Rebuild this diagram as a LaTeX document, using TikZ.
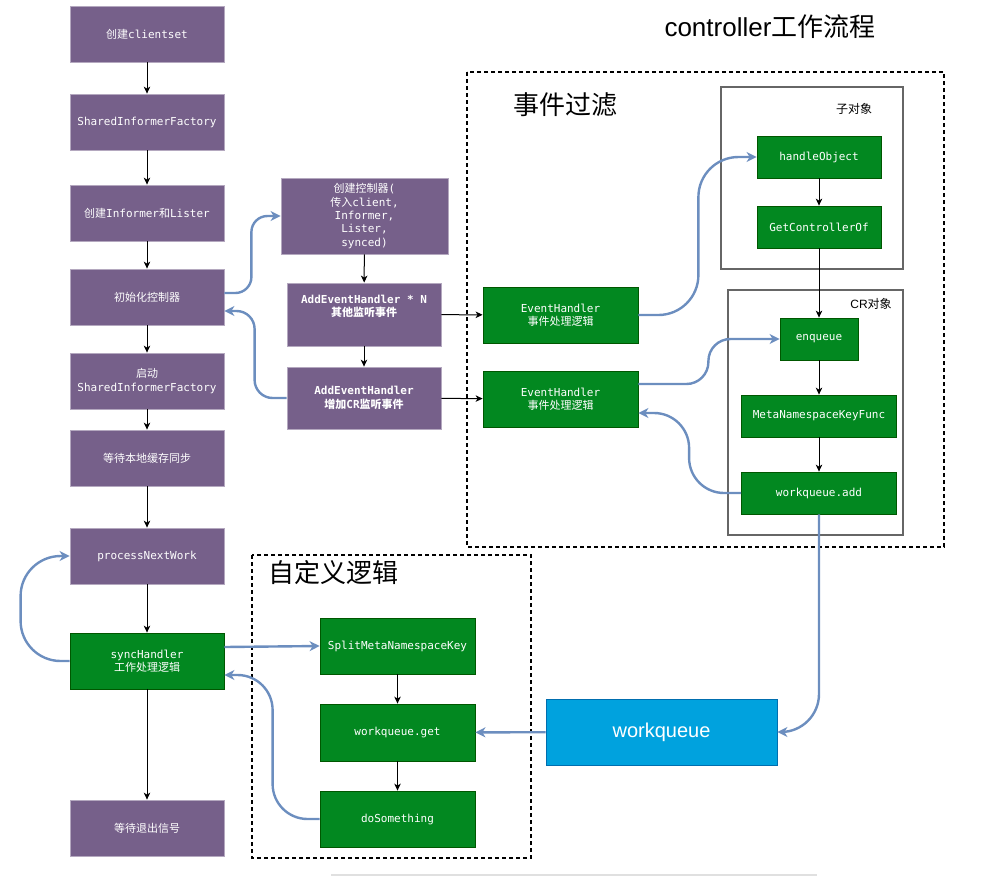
\documentclass[tikz,border=0pt]{standalone}
\usepackage{fontspec}
\setmonofont{DejaVu Sans Mono}
\setsansfont{Liberation Sans}
\newfontfamily\zhfont{Noto Sans CJK SC}
\newcommand{\zh}[1]{{\zhfont #1}}
\newcommand{\boxfont}{\ttfamily\fontsize{11}{13.3}\selectfont}
\usetikzlibrary{arrows.meta}
\definecolor{ctlpurple}{RGB}{118,96,138}
\definecolor{ctlgreen}{RGB}{2,136,32}
\definecolor{ctlgreenline}{RGB}{0,87,0}
\definecolor{qblue}{RGB}{0,162,222}
\definecolor{qblueline}{RGB}{0,110,175}
\definecolor{feedblue}{RGB}{108,142,191}
\tikzset{pbox/.style={rectangle, fill=ctlpurple, draw=ctlpurple!55!white, line width=0.8pt,
    minimum width=#1, minimum height=56pt, inner sep=1pt, align=center, text=white, font=\boxfont},
pbox/.default={154pt},
gbox/.style={pbox=#1, fill=ctlgreen, draw=ctlgreenline},
gbox/.default={155pt},
flow/.style={draw=black, line width=1pt, -{Stealth[length=7pt, width=6.5pt, inset=2pt]}},
% the blue curved links
feed/.style={draw=feedblue, line width=2.4pt, -{Stealth[length=10pt, width=10pt, inset=3pt]}},
group/.style={draw=black, line width=1.1pt, dash pattern=on 4pt off 3pt},
subgroup/.style={draw=black!60, line width=1.3pt}}

\begin{document}
\begin{tikzpicture}[x=1pt, y=-1pt]

\useasboundingbox (0,0) rectangle (982,876);

\draw[group] (467,72) rectangle (944,547);
\draw[group] (252,555) rectangle (531,858);
\draw[subgroup] (721,87) rectangle (903,269);
\draw[subgroup] (728,290) rectangle (903,535);

\node[font=\sffamily\fontsize{26}{30}\selectfont] (title) at (770,27) {controller\zh{工作流程}};
\node[font=\zhfont\fontsize{26}{30}\selectfont] (filtertitle) at (565,105) {事件过滤};
\node[font=\zhfont\fontsize{26}{30}\selectfont] (logictitle) at (333,573) {自定义逻辑};
\node[font=\zhfont\fontsize{12}{14}\selectfont] (childlabel) at (854,109) {子对象};
\node[font=\sffamily\fontsize{12}{14}\selectfont] (crlabel) at (871,304) {CR\zh{对象}};

% main loop
\node[pbox] (cs) at (147,34) {\zh{创建}clientset};
\node[pbox] (sif) at (147,122) {SharedInformerFactory};
\node[pbox] (inf) at (147,213) {\zh{创建}Informer\zh{和}Lister};
\node[pbox] (initctl) at (147,297) {\zh{初始化控制器}};
\node[pbox] (startsif) at (147,381) {\zh{启动}\\SharedInformerFactory};
\node[pbox] (waitsync) at (147,458) {\zh{等待本地缓存同步}};
\node[pbox] (pnw) at (147,556) {processNextWork};
\node[gbox=154pt] (sync) at (147,661) {syncHandler\\\zh{工作处理逻辑}};
\node[pbox] (waitexit) at (147,828) {\zh{等待退出信号}};

\node[pbox=167pt, minimum height=76pt] (newctl) at (364.5,216)
  {\zh{创建控制器}(\\\zh{传入}client,\\Informer,\\ Lister,\\synced)};
\node[pbox, minimum height=63pt, font=\boxfont\bfseries] (addn) at (364,314.5)
  {AddEventHandler * N\\\zh{其他监听事件}\\[4pt]};
\node[pbox, minimum height=62pt, font=\boxfont\bfseries] (addcr) at (364,398)
  {AddEventHandler\\\zh{增加}CR\zh{监听事件}};

\node[gbox] (eh1) at (560.5,315) {EventHandler\\\zh{事件处理逻辑}};
\node[gbox] (eh2) at (560.5,399) {EventHandler\\\zh{事件处理逻辑}};

\node[gbox=124pt, minimum height=42pt] (hobj) at (819,157) {handleObject};
\node[gbox=124pt, minimum height=42pt] (gco) at (819,227) {GetControllerOf};
\node[gbox=78pt, minimum height=42pt] (enq) at (819,339) {enqueue};
\node[gbox, minimum height=42pt] (mnkf) at (819,416) {MetaNamespaceKeyFunc};
\node[gbox, minimum height=42pt] (wqadd) at (819,493) {workqueue.add};

\node[gbox] (split) at (397.5,646) {SplitMetaNamespaceKey};
\node[gbox, minimum height=57pt] (wqget) at (397.5,732.5) {workqueue.get};
\node[gbox] (dosth) at (397.5,819) {doSomething};

\node[pbox=231pt, minimum height=66pt, fill=qblue, draw=qblueline,
  font=\sffamily\fontsize{20}{24}\selectfont] (wq) at (661.5,732) {workqueue};

\foreach \a/\b in {cs/sif, sif/inf, inf/initctl, initctl/startsif, startsif/waitsync,
    waitsync/pnw, pnw/sync, sync/waitexit, newctl/addn, addn/addcr, addn/eh1, addcr/eh2,
    hobj/gco, gco/enq, enq/mnkf, mnkf/wqadd, split/wqget, wqget/dosth}
    \draw[flow] (\a) -- (\b);

\draw[feed, rounded corners=16pt] ([yshift=4pt]initctl.east) -- ++(27,0) |- (newctl.west);
\draw[feed, rounded corners=18pt] (addcr.west) -- ++(-32,0) |- ([yshift=-14pt]initctl.east);
\draw[feed, rounded corners=40pt] (eh1.east) -- ++(60,0) |- (hobj.west);
\draw[feed, rounded corners=22pt] ([yshift=15pt]eh2.east) -- ++(70,0) |- (enq.west);
\draw[feed, rounded corners=35pt] (wqadd.west) -- ++(-52,0) |- ([yshift=-14pt]eh2.east);
\draw[feed, rounded corners=38pt] (wqadd.south) |- (wq.east);
\draw[feed] (wq) -- (wqget);
\draw[feed] ([yshift=14pt]sync.east) -- (split.west);
\draw[feed, rounded corners=35pt] (dosth.west) -- ++(-47,0) |- ([yshift=-14pt]sync.east);
\draw[feed, rounded corners=40pt] (sync.west) -- ++(-49,0) |- (pnw.west);

\fill[black!12] (331,874) rectangle (817,876);

\end{tikzpicture}
\end{document}
